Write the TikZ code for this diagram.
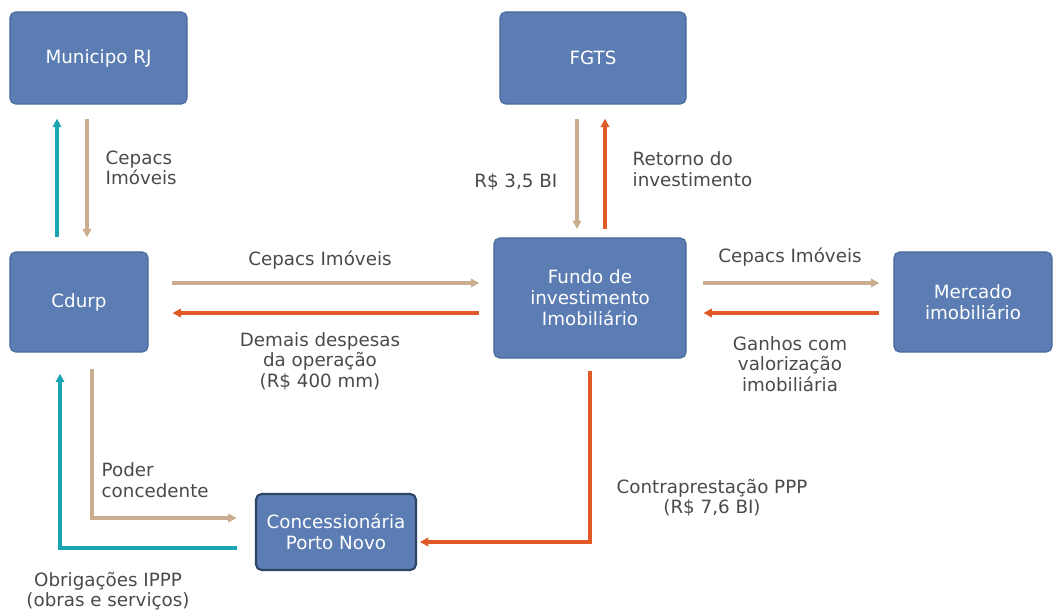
\documentclass[tikz,border=0pt]{standalone}
\usepackage{fontspec}
\setmainfont{DejaVu Sans}
\usetikzlibrary{arrows.meta,positioning,calc}
\definecolor{boxblue}{HTML}{5B7DB3}
\definecolor{boxedge}{HTML}{4B6A9C}
\definecolor{darkedge}{HTML}{2C4466}
\definecolor{tanline}{HTML}{C9AD8E}
\definecolor{orangeline}{HTML}{E05A28}
\definecolor{tealline}{HTML}{1BA5B2}
\definecolor{labelgray}{HTML}{4A4A4A}

\tikzset{
  entity/.style={rectangle, rounded corners=4pt, fill=boxblue, draw=boxedge,
    line width=0.8pt, text=white, align=center, font=\fontsize{13}{15}\selectfont},
  flowtext/.style={text=labelgray, align=center, font=\fontsize{13}{14.5}\selectfont, inner sep=1pt},
  tanarrow/.style={draw=tanline, line width=2.3pt, -{Triangle[length=6pt,width=6pt]}},
  orangearrow/.style={draw=orangeline, line width=2.3pt, -{Triangle[length=6pt,width=6pt]}},
  tealarrow/.style={draw=tealline, line width=2.3pt, -{Triangle[length=6pt,width=6pt]}}
}

\begin{document}
\begin{tikzpicture}[x=0.025cm, y=-0.025cm]
  \useasboundingbox (0,0) rectangle (1054,614);

  % boxes
  \node[entity, minimum width=4.425cm, minimum height=2.3cm] (muni) at (98.5,58) {Municipo RJ};
  \node[entity, minimum width=4.65cm, minimum height=2.3cm] (fgts) at (593,58) {FGTS};
  \node[entity, minimum width=3.45cm, minimum height=2.5cm] (cdurp) at (79,302) {Cdurp};
  \node[entity, minimum width=4.8cm, minimum height=3.0cm] (fundo) at (590,298) {Fundo de\\investimento\\Imobiliário};
  \node[entity, minimum width=3.95cm, minimum height=2.5cm] (mercado) at (973,302) {Mercado\\imobiliário};
  \node[entity, draw=darkedge, line width=1.5pt, minimum width=4.0cm, minimum height=1.9cm] (conc) at (336,532) {Concessionária\\Porto Novo};

  % helper columns / rows
  \coordinate (c1) at (57,0);
  \coordinate (c2) at (87,0);
  \coordinate (c3) at (577,0);
  \coordinate (c4) at (605,0);
  \coordinate (c5) at (60,0);
  \coordinate (c6) at (92,0);
  \coordinate (r1) at (0,283);
  \coordinate (r2) at (0,313);
  \coordinate (r3) at (0,518);
  \coordinate (r4) at (0,548);
  \coordinate (r5) at (0,542);

  % Cdurp <-> Municipio
  \draw[tealarrow, shorten <=10pt, shorten >=10pt] (cdurp.north -| c1) -- (muni.south -| c1);
  \draw[tanarrow, shorten <=10pt, shorten >=10pt] (muni.south -| c2) -- (cdurp.north -| c2);
  \node[flowtext, align=left, anchor=west] (lcep1) at (104,168) {Cepacs\\Imóveis};

  % FGTS <-> Fundo
  \draw[tanarrow, shorten <=10pt, shorten >=6pt] (fgts.south -| c3) -- (fundo.north -| c3);
  \draw[orangearrow, shorten <=6pt, shorten >=10pt] (fundo.north -| c4) -- (fgts.south -| c4);
  \node[flowtext, anchor=east] (lrs) at (559,182) {R\$ 3,5 BI};
  \node[flowtext, align=left, anchor=west] (lret) at (631,169) {Retorno do\\investimento};

  % Cdurp <-> Fundo
  \draw[tanarrow, shorten <=17pt, shorten >=10pt] (cdurp.east |- r1) -- (fundo.west |- r1);
  \draw[orangearrow, shorten <=10pt, shorten >=17pt] (fundo.west |- r2) -- (cdurp.east |- r2);
  \node[flowtext] (lcep2) at (320,260) {Cepacs Imóveis};
  \node[flowtext] (ldem) at (320,361) {Demais despesas\\da operação\\(R\$ 400 mm)};

  % Fundo <-> Mercado
  \draw[tanarrow, shorten <=12pt, shorten >=10pt] (fundo.east |- r1) -- (mercado.west |- r1);
  \draw[orangearrow, shorten <=10pt, shorten >=12pt] (mercado.west |- r2) -- (fundo.east |- r2);
  \node[flowtext] (lcep3) at (790,257) {Cepacs Imóveis};
  \node[flowtext] (lgan) at (790,364) {Ganhos com\\valorização\\imobiliária};

  % Cdurp <-> Concessionaria
  \draw[tanarrow, shorten <=12pt, shorten >=13pt] (cdurp.south -| c6) -- (c6 |- r3) -- (conc.west |- r3);
  \draw[tealarrow, shorten <=13pt, shorten >=15pt] (conc.west |- r4) -- (c5 |- r4) -- (cdurp.south -| c5);
  \node[flowtext, align=left, anchor=west] (lpod) at (100,480) {Poder\\concedente};
  \node[flowtext] (lobr) at (108,591) {Obrigações IPPP\\(obras e serviços)};

  % Fundo -> Concessionaria
  \draw[orangearrow, shorten <=9pt, shorten >=2pt] (fundo.south) -- (fundo.south |- r5) -- (conc.east |- r5);
  \node[flowtext] (lcon) at (712,498) {Contraprestação PPP\\(R\$ 7,6 BI)};
\end{tikzpicture}
\end{document}
